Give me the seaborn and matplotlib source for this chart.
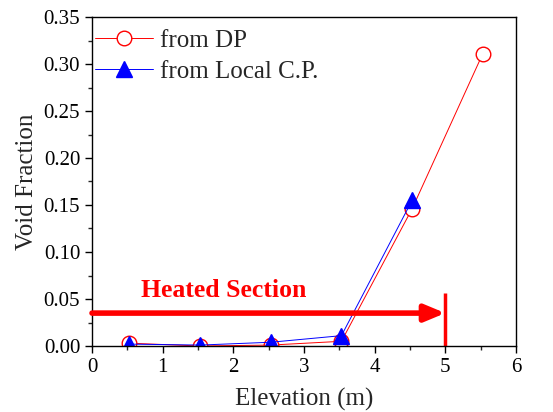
import matplotlib
matplotlib.use("Agg")
import matplotlib.pyplot as plt
import seaborn as sns
import pandas as pd
from matplotlib.ticker import MultipleLocator

elevation = [0.53, 1.53, 2.53, 3.53, 4.53, 5.53]
void_dp = [0.003, 0.0, 0.001, 0.005, 0.146, 0.311]
elevation_cp = [0.53, 1.53, 2.53, 3.53, 4.53]
void_cp = [0.002, 0.001, 0.004, 0.011, 0.155]
series_labels = ["from DP", "from Local C.P."]
heated_end = 5.0
arrow_y = 0.035

sns.set_style("ticks")
plt.rcParams["font.family"] = ["Liberation Serif", "DejaVu Serif"]

fig = plt.figure(figsize=(5.53, 4.12), dpi=100)
ax = fig.add_axes([92/553, 1-346/412, (516-92)/553, (346-17)/412])

df_dp = pd.DataFrame({"x": elevation, "y": void_dp})
df_cp = pd.DataFrame({"x": elevation_cp, "y": void_cp})

sns.lineplot(data=df_dp, x="x", y="y", ax=ax, color="red", lw=0.7,
             marker="o", markersize=10.5, markerfacecolor="white",
             markeredgecolor="red", markeredgewidth=1.0, label=series_labels[0])
sns.lineplot(data=df_cp, x="x", y="y", ax=ax, color="blue", lw=0.7,
             marker="^", markersize=11, markerfacecolor="blue",
             markeredgecolor="blue", markeredgewidth=1.0, label=series_labels[1])

# Heated section arrow
ax.annotate("", xy=(heated_end, arrow_y), xytext=(0, arrow_y),
            arrowprops=dict(arrowstyle="-|>,head_length=1.2,head_width=0.5",
                            color="red", lw=4, shrinkA=0, shrinkB=0),
            annotation_clip=False)
ax.plot([heated_end, heated_end], [0, 0.056], color="red", lw=2.5, solid_capstyle="butt")
ax.text(1.87, 0.0595, "Heated Section", color="red", fontsize=18.5,
        fontweight="bold", ha="center", va="center")

ax.set_xlim(0, 6)
ax.set_ylim(0, 0.35)
ax.xaxis.set_major_locator(MultipleLocator(1))
ax.xaxis.set_minor_locator(MultipleLocator(0.5))
ax.yaxis.set_major_locator(MultipleLocator(0.05))
ax.yaxis.set_minor_locator(MultipleLocator(0.025))
ax.yaxis.set_major_formatter(matplotlib.ticker.FormatStrFormatter("%.2f"))
ax.tick_params(axis="both", which="major", direction="out", length=5, width=1,
               labelsize=15, colors="black")
ax.tick_params(axis="both", which="minor", direction="out", length=3, width=1)
for s in ax.spines.values():
    s.set_visible(True)
    s.set_linewidth(1.0)
    s.set_color("black")

ax.set_xlabel("Elevation (m)", fontsize=18, labelpad=8)
ax.set_ylabel("Void Fraction", fontsize=18)

leg = ax.legend(loc="upper left", bbox_to_anchor=(0.002, 0.97), frameon=False,
                fontsize=18, handlelength=2.3, borderaxespad=0.0, borderpad=0.1,
                handletextpad=0.3, labelspacing=0.33)

fig.savefig("out.png", dpi=100)
